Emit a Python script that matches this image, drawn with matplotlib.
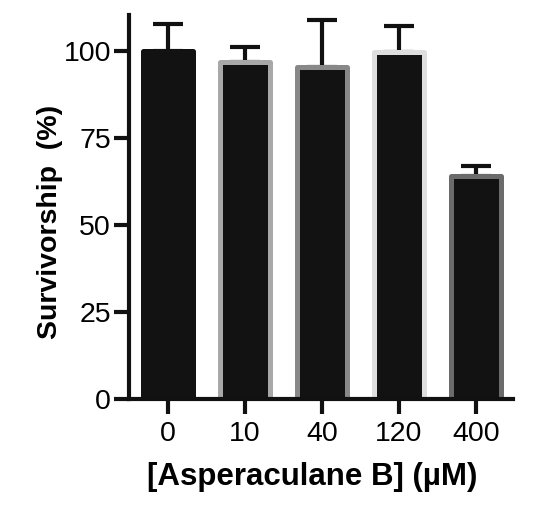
import matplotlib
matplotlib.use("Agg")
import matplotlib.pyplot as plt
import numpy as np

categories = ["0", "10", "40", "120", "400"]
means = [100.0, 97.0, 95.6, 99.9, 64.2]
errors_up = [8.0, 4.4, 13.6, 7.5, 2.8]
edge_colors = ["#121212", "#a8a8a8", "#888888", "#dedede", "#6b6b6b"]

plt.rcParams['font.family'] = ['Liberation Sans', 'DejaVu Sans']

fig = plt.figure(figsize=(5.5, 5.18), dpi=100)
ax = fig.add_axes([129/550, 1-399/518, (513-129)/550, (399-15)/518])

x = np.arange(len(categories))
bars = ax.bar(x, means, width=0.66, color="#121212", edgecolor=edge_colors,
              linewidth=3.6, zorder=2)
for b in bars:
    b.set_joinstyle("round")

yerr = np.array([np.zeros(len(errors_up)), errors_up])
ax.errorbar(x, means, yerr=yerr, fmt="none", ecolor="#111111", elinewidth=3.0,
            capsize=10.8, capthick=3.0, zorder=1)

ax.set_xlim(-0.506, 4.48)
ax.set_ylim(0, 110.5)
ax.set_yticks([0, 25, 50, 75, 100])
ax.set_xticks(x)
ax.set_xticklabels(categories)

for s in ["top", "right"]:
    ax.spines[s].set_visible(False)
for s in ["left", "bottom"]:
    ax.spines[s].set_linewidth(3.0)
    ax.spines[s].set_color("#111111")

ax.tick_params(axis="y", length=11, width=3.0, color="#111111", labelsize=20.5, pad=2)
ax.tick_params(axis="x", length=10.5, width=3.0, color="#111111", labelsize=20.5, pad=5)

ax.set_xlabel("[Asperaculane B] (µM)", fontsize=22.5, fontweight="bold")
ax.set_ylabel("Survivorship  (%)", fontsize=20.5, fontweight="bold")
ax.xaxis.set_label_coords((312-129)/384, -(462-399)/384)
ax.yaxis.set_label_coords(-(129-63)/384, (399-222)/384)

fig.savefig("out.png", dpi=100)
